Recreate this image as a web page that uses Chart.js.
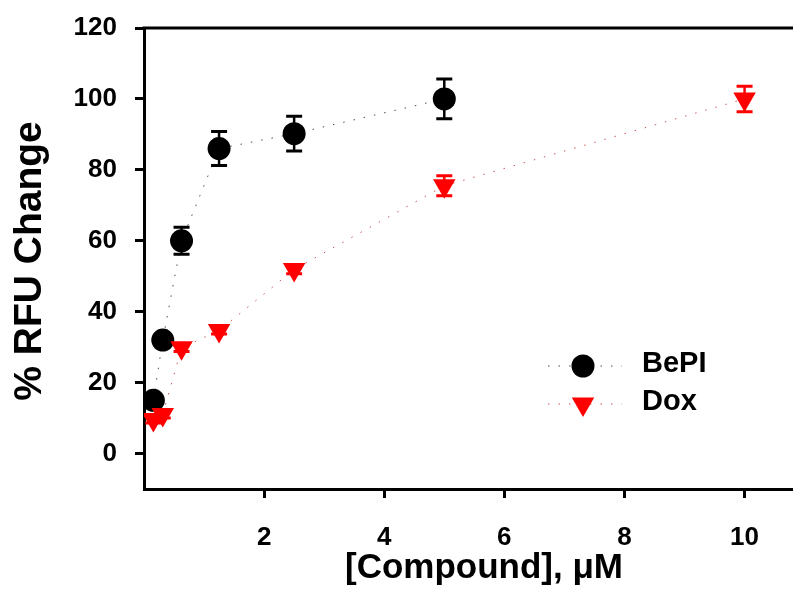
<!DOCTYPE html>
<html>
<head>
<meta charset="utf-8">
<script src="https://cdn.jsdelivr.net/npm/chart.js@4/dist/chart.umd.min.js"></script>
<style>
  html, body { margin: 0; padding: 0; background: #fff; }
  #wrap { width: 793px; height: 592px; }
</style>
</head>
<body>
<div id="wrap"><canvas id="chart" width="793" height="592"></canvas></div>
<script>
// data
const bepiX = [0.156, 0.3125, 0.625, 1.25, 2.5, 5];
const bepiY = [15, 32, 60, 86, 90.2, 100];
const bepiErr = [1.5, 1.5, 3.8, 4.8, 4.9, 5.6];

const doxX = [0.156, 0.3125, 0.625, 1.25, 2.5, 5, 10];
const doxY = [9.6, 11, 29.8, 34.7, 51.9, 75.5, 100];
const doxErr = [1, 1, 1, 1, 1.2, 2.8, 3.6];

const xTicks = [2, 4, 6, 8, 10];
const yTicks = [0, 20, 40, 60, 80, 100, 120];

const FONT = "'Liberation Sans', Arial, sans-serif";

function pts(xs, ys) {
    return xs.map((x, i) => ({ x: x, y: ys[i] }));
}

// Error bars
const errorBars = {
    id: 'errorBars',
    beforeDatasetsDraw(chart) {
        const ctx = chart.ctx;
        const xs = chart.scales.x, ys = chart.scales.y;
        chart.data.datasets.forEach(ds => {
            ctx.save();
            ctx.strokeStyle = ds.pointBackgroundColor;
            ds.data.forEach((p, i) => {
                const e = ds.errors[i];
                const px = xs.getPixelForValue(p.x);
                const top = ys.getPixelForValue(p.y + e);
                const bot = ys.getPixelForValue(p.y - e);
                ctx.lineWidth = 2.5;
                ctx.beginPath();
                ctx.moveTo(px, top);
                ctx.lineTo(px, bot);
                ctx.stroke();
                ctx.lineWidth = 3;
                ctx.beginPath();
                ctx.moveTo(px - 8, top);
                ctx.lineTo(px + 8, top);
                ctx.moveTo(px - 8, bot);
                ctx.lineTo(px + 8, bot);
                ctx.stroke();
            });
            ctx.restore();
        });
    }
};

// Frame lines running to the canvas edge, legend and axis titles
const extras = {
    id: 'extras',
    afterDraw(chart) {
        const ctx = chart.ctx;
        const a = chart.chartArea;
        const W = chart.width;
        ctx.save();
        ctx.strokeStyle = '#000';
        ctx.lineWidth = 3;
        const yb = Chart.helpers._alignPixel(chart, chart.scales.x.top, 3);
        ctx.beginPath();
        ctx.moveTo(a.left - 1.5, a.top);
        ctx.lineTo(W, a.top);
        ctx.moveTo(a.right - 2, yb);
        ctx.lineTo(W, yb);
        ctx.stroke();

        // legend
        const items = [
            { ds: chart.data.datasets[0], y: 366 },
            { ds: chart.data.datasets[1], y: 404 }
        ];
        items.forEach(it => {
            ctx.save();
            ctx.strokeStyle = it.ds.borderColor;
            ctx.lineWidth = 1;
            ctx.setLineDash(it.ds.borderDash);
            ctx.beginPath();
            ctx.moveTo(548, it.y);
            ctx.lineTo(622, it.y);
            ctx.stroke();
            ctx.restore();
            ctx.fillStyle = it.ds.pointBackgroundColor;
            Chart.helpers.drawPoint(ctx, {
                pointStyle: it.ds.pointStyle,
                radius: it.ds.pointRadius,
                rotation: it.ds.rotation || 0,
                borderWidth: 0
            }, 583, it.y);
            ctx.fillStyle = '#000';
            ctx.font = 'bold 29px ' + FONT;
            ctx.textAlign = 'left';
            ctx.textBaseline = 'middle';
            ctx.fillText(it.ds.label, 642, it.y - 2);
        });

        // axis titles
        ctx.fillStyle = '#000';
        ctx.font = 'bold 35px ' + FONT;
        ctx.textAlign = 'center';
        ctx.textBaseline = 'alphabetic';
        ctx.fillText('[Compound], \u03BCM', 484, 578);

        ctx.translate(41, 261);
        ctx.rotate(-Math.PI / 2);
        ctx.font = 'bold 39px ' + FONT;
        ctx.fillText('% RFU Change', 0, 0);
        ctx.restore();
    }
};

new Chart(document.getElementById('chart'), {
    type: 'scatter',
    data: {
        datasets: [
            {
                label: 'BePI',
                data: pts(bepiX, bepiY),
                errors: bepiErr,
                showLine: true,
                borderColor: 'rgba(0,0,0,0.7)',
                borderWidth: 1,
                borderDash: [1.5, 9],
                pointStyle: 'circle',
                pointRadius: 11.5,
                pointBackgroundColor: '#000000',
                pointBorderWidth: 0,
                order: 1
            },
            {
                label: 'Dox',
                data: pts(doxX, doxY),
                errors: doxErr,
                showLine: true,
                borderColor: 'rgba(190,30,30,0.75)',
                borderWidth: 1,
                borderDash: [1.5, 9],
                pointStyle: 'triangle',
                rotation: 180,
                pointRadius: 13,
                pointBackgroundColor: '#ff0000',
                pointBorderWidth: 0,
                order: 0
            }
        ]
    },
    options: {
        responsive: false,
        animation: false,
        layout: { padding: { top: 28, right: 0, left: 0, bottom: 0 } },
        plugins: { legend: { display: false }, tooltip: { enabled: false } },
        scales: {
            x: {
                type: 'linear',
                min: 0,
                max: 10.59,
                afterFit: s => { s.height = 103; },
                afterBuildTicks: s => { s.ticks = xTicks.map(v => ({ value: v })); },
                grid: { drawOnChartArea: false, tickLength: 9, tickWidth: 3, tickColor: '#000' },
                border: { color: '#000', width: 3 },
                ticks: { color: '#000', font: { family: FONT, size: 26, weight: 'bold' }, padding: 24, maxRotation: 0 }
            },
            y: {
                type: 'linear',
                min: -10,
                max: 120,
                afterFit: s => { s.width = 144; s.paddingTop = 0; s.paddingBottom = 0; },
                afterBuildTicks: s => { s.ticks = yTicks.map(v => ({ value: v })); },
                grid: { drawOnChartArea: false, tickLength: 9, tickWidth: 3, tickColor: '#000' },
                border: { color: '#000', width: 3 },
                ticks: { color: '#000', font: { family: FONT, size: 26, weight: 'bold' }, padding: 18 }
            }
        }
    },
    plugins: [errorBars, extras]
});
</script>
</body>
</html>
